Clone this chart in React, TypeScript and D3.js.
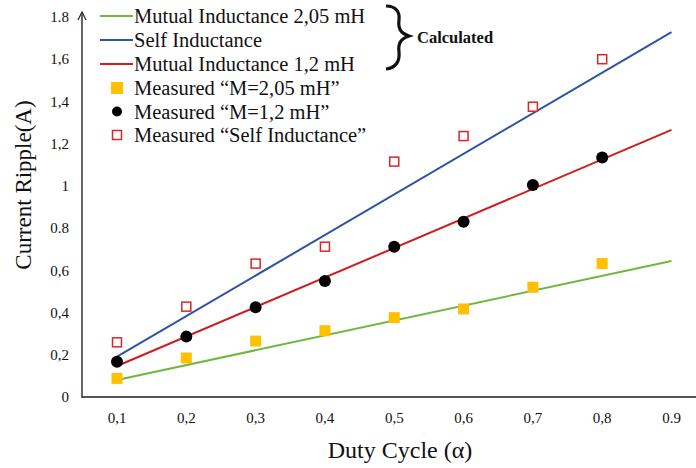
import React from "react";
import * as d3 from "d3";

const W = 696;
const H = 468;

// Duty cycle values for the measured points
const dutyMeasured = [0.1, 0.2, 0.3, 0.4, 0.5, 0.6, 0.7, 0.8];
const measuredM205 = [0.088, 0.185, 0.265, 0.314, 0.376, 0.417, 0.52, 0.632];
const measuredM12 = [0.167, 0.286, 0.425, 0.549, 0.712, 0.83, 1.004, 1.135];
const measuredSelf = [0.259, 0.428, 0.632, 0.712, 1.115, 1.236, 1.375, 1.6];

// Calculated lines (straight lines, endpoints)
const dutyLine = [0.1, 0.9];
const calcM205 = [0.081, 0.644];
const calcSelf = [0.191, 1.728];
const calcM12 = [0.147, 1.265];

const xTicks = [0.1, 0.2, 0.3, 0.4, 0.5, 0.6, 0.7, 0.8, 0.9];
const xTickLabels = ["0,1", "0,2", "0,3", "0,4", "0,5", "0,6", "0,7", "0,8", "0.9"];
const yTicks = [0, 0.2, 0.4, 0.6, 0.8, 1, 1.2, 1.4, 1.6, 1.8];
const yTickLabels = ["0", "0,2", "0,4", "0,6", "0.8", "1", "1,2", "1,4", "1,6", "1.8"];

const legendLines = [
  { label: "Mutual Inductance 2,05 mH", color: "#6fb83f" },
  { label: "Self Inductance", color: "#2d54a3" },
  { label: "Mutual Inductance 1,2 mH", color: "#d01c1c" },
];
const legendMarkers = [
  { label: "Measured \u201cM=2,05 mH\u201d", kind: "sq" },
  { label: "Measured \u201cM=1,2 mH\u201d", kind: "dot" },
  { label: "Measured \u201cSelf Inductance\u201d", kind: "hollow" },
];

const FONT = "'Liberation Serif', 'Times New Roman', serif";
const ORANGE = "#ffc000";
const RED_SQ = "#d9262b";

export default function App() {
  const x = d3.scaleLinear().domain([0.1, 0.9]).range([117, 671.5]);
  const y = d3.scaleLinear().domain([0, 1.8]).range([397, 17]);
  const line = d3
    .line<[number, number]>()
    .x((d) => x(d[0]))
    .y((d) => y(d[1]));
  const pts = (vals: number[], xs: number[]) =>
    xs.map((v, i) => [v, vals[i]] as [number, number]);

  const axisX0 = 82;
  const axisY0 = 397;

  return (
    <svg
      width={W}
      height={H}
      style={{ position: "absolute", left: 0, top: 0, background: "#fff" }}
      fontFamily={FONT}
    >
      <rect width={W} height={H} fill="#fff" />
      {/* axes */}
      <line x1={axisX0} y1={axisY0} x2={W} y2={axisY0} stroke="#555" strokeWidth={2} />
      <line x1={axisX0} y1={axisY0 + 1} x2={axisX0} y2={13} stroke="#333" strokeWidth={1.5} />
      <path d={`M${axisX0 - 4},${20} L${axisX0},${12} L${axisX0 + 4},${20}`} fill="none" stroke="#333" strokeWidth={1.3} />

      {/* y tick labels */}
      {yTicks.map((t, i) => (
        <text key={"y" + i} x={69} y={y(t)} dy="0.35em" textAnchor="end" fontSize={15} fill="#111">
          {yTickLabels[i]}
        </text>
      ))}
      {/* x tick labels */}
      {xTicks.map((t, i) => (
        <text key={"x" + i} x={x(t)} y={418} dy="0.35em" textAnchor="middle" fontSize={15} fill="#111">
          {xTickLabels[i]}
        </text>
      ))}

      {/* axis titles */}
      <text
        transform={`translate(31,185) rotate(-90)`}
        textAnchor="middle"
        fontSize={23}
        fill="#111"
      >
        Current Ripple(A)
      </text>
      <text x={400} y={458} textAnchor="middle" fontSize={24} fill="#111">
        Duty Cycle (α)
      </text>

      {/* calculated lines */}
      <path d={line(pts(calcM205, dutyLine)) || ""} fill="none" stroke={legendLines[0].color} strokeWidth={2} />
      <path d={line(pts(calcSelf, dutyLine)) || ""} fill="none" stroke={legendLines[1].color} strokeWidth={2} />
      <path d={line(pts(calcM12, dutyLine)) || ""} fill="none" stroke={legendLines[2].color} strokeWidth={2} />

      {/* measured points */}
      {pts(measuredSelf, dutyMeasured).map((d, i) => (
        <rect key={"s" + i} x={x(d[0]) - 4.5} y={y(d[1]) - 4.5} width={9} height={9} fill="#fff" stroke={RED_SQ} strokeWidth={1.5} />
      ))}
      {pts(measuredM205, dutyMeasured).map((d, i) => (
        <rect key={"o" + i} x={x(d[0]) - 5.5} y={y(d[1]) - 5.5} width={11} height={11} fill={ORANGE} />
      ))}
      {pts(measuredM12, dutyMeasured).map((d, i) => (
        <circle key={"b" + i} cx={x(d[0])} cy={y(d[1])} r={6} fill="#000" />
      ))}

      {/* legend */}
      {legendLines.map((l, i) => (
        <g key={"ll" + i} transform={`translate(0,${16 + i * 24})`}>
          <line x1={100} x2={133} y1={0} y2={0} stroke={l.color} strokeWidth={2} />
          <text x={134} y={0} dy="0.35em" fontSize={20.5} fill="#111">
            {l.label}
          </text>
        </g>
      ))}
      {legendMarkers.map((m, i) => (
        <g key={"lm" + i} transform={`translate(0,${88 + i * 23.5})`}>
          {m.kind === "sq" && <rect x={111} y={-6} width={12} height={12} fill={ORANGE} />}
          {m.kind === "dot" && <circle cx={117} cy={0} r={5} fill="#000" />}
          {m.kind === "hollow" && (
            <rect x={112.5} y={-4.5} width={9} height={9} fill="#fff" stroke={RED_SQ} strokeWidth={1.5} />
          )}
          <text x={134} y={0} dy="0.35em" fontSize={20.5} fill="#111">
            {m.label}
          </text>
        </g>
      ))}

      {/* brace */}
      <path
        d="M386,6 C396,6 400,12 399,20 C398,28 400,33 409,36 C400,39 398,44 399,52 C400,61 396,68 386,69"
        fill="none"
        stroke="#111"
        strokeWidth={3.2}
      />
      <text x={417} y={37} dy="0.35em" fontSize={16.5} fontWeight="bold" fill="#111">
        Calculated
      </text>
    </svg>
  );
}
